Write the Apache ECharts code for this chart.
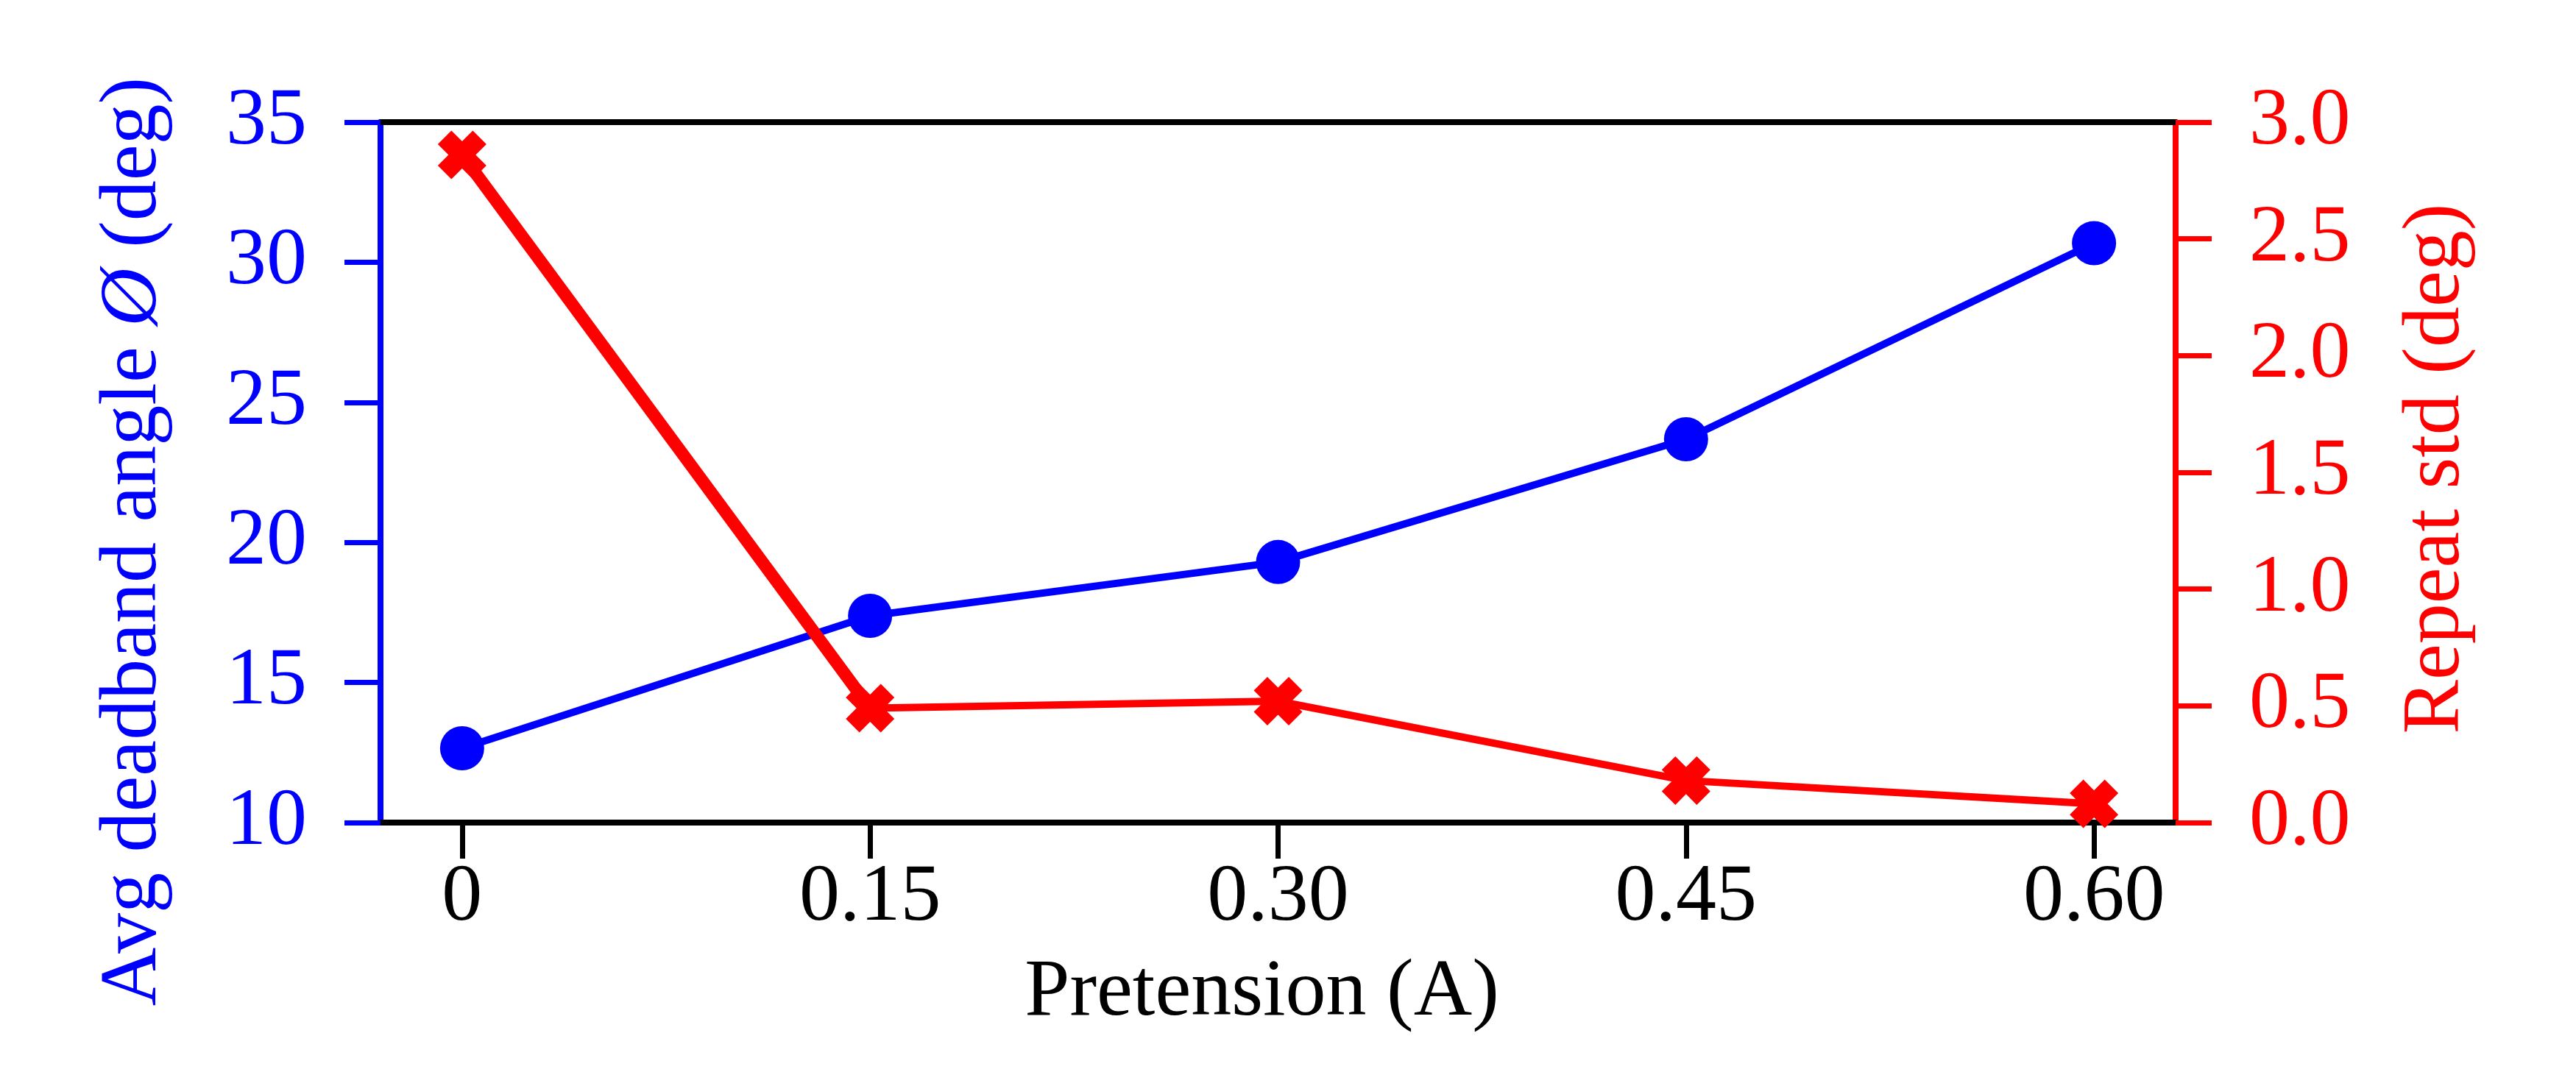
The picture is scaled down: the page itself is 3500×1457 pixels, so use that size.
<!DOCTYPE html>
<html><head><meta charset="utf-8">
<script src="https://cdn.jsdelivr.net/npm/echarts@6/dist/echarts.min.js"></script>
<style>html,body{margin:0;padding:0;background:#fff}#c{width:3500px;height:1457px}</style>
</head><body><div id="c"></div>
<script>
const pretension = [0, 0.15, 0.30, 0.45, 0.60];
const xTickLabels = ['0', '0.15', '0.30', '0.45', '0.60'];
const deadbandAngle = [12.65, 17.38, 19.3, 23.68, 30.68];
const repeatStd = [2.86, 0.49, 0.52, 0.18, 0.08];
const xMin = -0.03, xMax = 0.63;

const FONT = 'Liberation Serif';
const FS = 110;
const xShape = 'path://M0,28 L28,0 L50,22 L72,0 L100,28 L78,50 L100,72 L72,100 L50,78 L28,100 L0,72 L22,50 Z';

const chart = echarts.init(document.getElementById('c'), null, {renderer: 'canvas'});
const pts = (ys) => pretension.map((x, i) => [x, ys[i]]);

chart.setOption({
  animation: false,
  backgroundColor: '#fff',
  grid: {left: 517, right: 544, top: 166, bottom: 339, containLabel: false},
  xAxis: [{
    type: 'value', min: xMin, max: xMax, position: 'bottom',
    name: 'Pretension (A)', nameLocation: 'middle', nameGap: 177,
    nameTextStyle: {fontFamily: FONT, fontSize: FS, color: '#000', padding: [0, 44, 0, 0]},
    axisLine: {show: true, onZero: false, lineStyle: {color: '#000', width: 8}},
    axisTick: {show: true, customValues: pretension, length: 49, lineStyle: {color: '#000', width: 7}},
    axisLabel: {customValues: pretension, margin: 48, fontFamily: FONT, fontSize: FS, color: '#000',
      formatter: (v) => { let k = 0; pretension.forEach((p, i) => { if (Math.abs(p - v) < Math.abs(pretension[k] - v)) k = i; }); return xTickLabels[k]; }},
    splitLine: {show: false}
  }, {
    type: 'value', min: xMin, max: xMax, position: 'top',
    axisLine: {show: true, onZero: false, lineStyle: {color: '#000', width: 8}},
    axisTick: {show: false}, axisLabel: {show: false}, splitLine: {show: false}
  }],
  yAxis: [{
    type: 'value', min: 10, max: 35, interval: 5, position: 'left',
    name: 'Avg deadband angle {i|Ø} (deg)', nameLocation: 'middle', nameGap: 280, nameRotate: 90,
    nameTextStyle: {fontFamily: FONT, fontSize: FS, color: '#0000ff', padding: [0, 188, 0, 0],
      rich: {i: {fontFamily: FONT, fontSize: FS, fontStyle: 'italic', color: '#0000ff'}}},
    axisLine: {show: true, onZero: false, lineStyle: {color: '#0000ff', width: 8}},
    axisTick: {show: true, length: 49, lineStyle: {color: '#0000ff', width: 7}},
    axisLabel: {margin: 100, fontFamily: FONT, fontSize: FS, color: '#0000ff'},
    splitLine: {show: false}
  }, {
    type: 'value', min: 0, max: 3, interval: 0.5, position: 'right',
    name: 'Repeat std (deg)', nameLocation: 'middle', nameGap: 300, nameRotate: 90,
    nameTextStyle: {fontFamily: FONT, fontSize: FS, color: '#ff0000', padding: [0, 0, 0, 10]},
    axisLine: {show: true, onZero: false, lineStyle: {color: '#ff0000', width: 8}},
    axisTick: {show: true, length: 49, lineStyle: {color: '#ff0000', width: 7}},
    axisLabel: {margin: 100, fontFamily: FONT, fontSize: FS, color: '#ff0000', formatter: (v) => v.toFixed(1)},
    splitLine: {show: false}
  }],
  series: [{
    name: 'Avg deadband angle', type: 'line', xAxisIndex: 0, yAxisIndex: 0,
    data: pts(deadbandAngle), symbol: 'circle', symbolSize: 60,
    lineStyle: {color: '#0000ff', width: 10}, itemStyle: {color: '#0000ff'}, z: 3
  }, {
    name: 'Repeat std', type: 'line', xAxisIndex: 0, yAxisIndex: 1,
    data: pts(repeatStd), symbol: xShape, symbolSize: 66,
    lineStyle: {color: '#ff0000', width: 10}, itemStyle: {color: '#ff0000'}, z: 4
  }, {
    name: 'Repeat std (first segment)', type: 'line', xAxisIndex: 0, yAxisIndex: 1,
    data: pts(repeatStd).slice(0, 2), symbol: 'none',
    lineStyle: {color: '#ff0000', width: 17}, z: 4
  }]
});
</script></body></html>
